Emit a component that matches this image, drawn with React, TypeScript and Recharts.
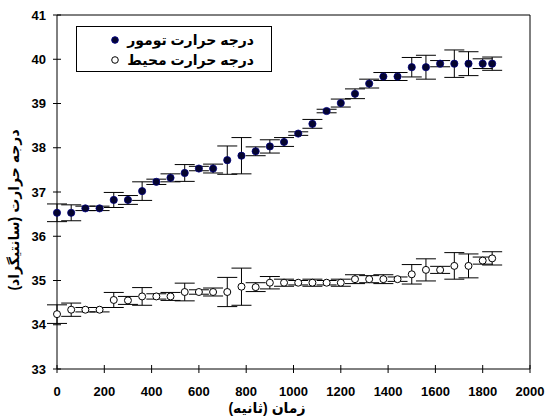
import { ScatterChart, Scatter, XAxis, YAxis, ErrorBar, ReferenceLine, Legend, Label } from 'recharts'

// time (s)
const TIME = [
  0, 60, 120, 180, 240, 300, 360, 420, 480, 540, 600, 660, 720, 780, 840, 900,
  960, 1020, 1080, 1140, 1200, 1260, 1320, 1380, 1440, 1500, 1560, 1620, 1680, 1740, 1800, 1840,
]

const TUMOR = [
  36.53, 36.53, 36.63, 36.63, 36.82, 36.82, 37.02, 37.23, 37.32, 37.43, 37.53, 37.53, 37.72, 37.82, 37.92, 38.03,
  38.13, 38.32, 38.54, 38.83, 39.01, 39.22, 39.45, 39.61, 39.61, 39.82, 39.82, 39.9, 39.9, 39.9, 39.9, 39.9,
]
const TUMOR_ERR = [
  0.2, 0.18, 0.05, 0.05, 0.17, 0.1, 0.21, 0.06, 0.09, 0.19, 0.05, 0.1, 0.32, 0.41, 0.1, 0.15,
  0.1, 0.04, 0.1, 0.04, 0.09, 0.11, 0.1, 0.09, 0.09, 0.22, 0.27, 0.07, 0.31, 0.27, 0.11, 0.15,
]

const AMBIENT = [
  34.24, 34.34, 34.34, 34.34, 34.56, 34.55, 34.64, 34.64, 34.64, 34.74, 34.74, 34.74, 34.74, 34.86, 34.85, 34.95,
  34.95, 34.95, 34.95, 34.95, 34.95, 35.03, 35.03, 35.03, 35.03, 35.14, 35.24, 35.24, 35.33, 35.33, 35.45, 35.5,
]
const AMBIENT_ERR = [
  0.21, 0.15, 0.05, 0.05, 0.17, 0.09, 0.2, 0.06, 0.09, 0.2, 0.05, 0.09, 0.33, 0.42, 0.1, 0.14,
  0.08, 0.05, 0.08, 0.05, 0.08, 0.1, 0.08, 0.1, 0.05, 0.22, 0.25, 0.08, 0.3, 0.27, 0.08, 0.15,
]

const X_TICKS = [0, 200, 400, 600, 800, 1000, 1200, 1400, 1600, 1800, 2000]
const Y_TICKS = [33, 34, 35, 36, 37, 38, 39, 40, 41]

const LABEL_TUMOR = 'درجه حرارت تومور'
const LABEL_AMBIENT = 'درجه حرارت محیط'
const X_TITLE = 'زمان (ثانیه)'
const Y_TITLE = 'درجه حرارت (سانتیگراد)'

const FONT = '"Liberation Sans", Arial, "DejaVu Sans", sans-serif'

const tumorData = TIME.map((t, i) => ({ t, v: TUMOR[i], err: TUMOR_ERR[i] }))
const ambientData = TIME.map((t, i) => ({ t, v: AMBIENT[i], err: AMBIENT_ERR[i] }))

function XTick(props: any) {
  const { x, y, payload } = props
  const ay = y - 18
  return (
    <g>
      <line x1={x} x2={x} y1={ay - 4} y2={ay + 4} stroke="#000" />
      <text x={x} y={ay + 27} textAnchor="middle" fontFamily={FONT} fontWeight="bold" fontSize={13} fill="#000">
        {payload.value}
      </text>
    </g>
  )
}

function YTick(props: any) {
  const { x, y, payload } = props
  const ax = x + 11
  return (
    <g>
      <line x1={ax - 4} x2={ax + 4} y1={y} y2={y} stroke="#000" />
      <text x={x} y={y + 4.5} textAnchor="end" fontFamily={FONT} fontWeight="bold" fontSize={13} fill="#000">
        {payload.value}
      </text>
    </g>
  )
}

const filledDot = (p: any) => <circle cx={p.cx} cy={p.cy} r={3.6} fill="#05052e" stroke="#000080" strokeWidth={0.8} />
const hollowDot = (p: any) => <circle cx={p.cx} cy={p.cy} r={3.5} fill="#fff" stroke="#000" strokeWidth={1} />

function LegendBox() {
  const row = (top: number, filled: boolean, text: string) => (
    <div style={{ position: 'absolute', left: 0, right: 0, top, height: 20 }}>
      <svg width={10} height={10} style={{ position: 'absolute', left: 33, top: 5 }}>
        <circle cx={5} cy={5} r={3.3} fill={filled ? '#05052e' : '#fff'} stroke={filled ? '#000080' : '#000'} strokeWidth={1} />
      </svg>
      <span dir="rtl" style={{ position: 'absolute', right: 17, top: 0, lineHeight: '20px', whiteSpace: 'nowrap' }}>
        {text}
      </span>
    </div>
  )
  return (
    <div
      style={{
        position: 'relative',
        width: 196,
        height: 46,
        boxSizing: 'border-box',
        border: '1px solid #000',
        background: '#fff',
        fontFamily: FONT,
        fontWeight: 'bold',
        fontSize: 14,
        color: '#000',
      }}
    >
      {row(3, true, LABEL_TUMOR)}
      {row(23, false, LABEL_AMBIENT)}
    </div>
  )
}

export default function App() {
  return (
    <div style={{ position: 'absolute', left: 0, top: 0, width: 547, height: 416, background: '#fff' }}>
      <ScatterChart width={547} height={416} margin={{ top: 15, right: 17, left: 0, bottom: 0 }}>
        <XAxis
          type="number"
          dataKey="t"
          domain={[0, 2000]}
          ticks={X_TICKS}
          interval={0}
          height={47}
          tickSize={4}
          tickMargin={14}
          tickLine={false}
          tick={<XTick />}
          axisLine={{ stroke: '#000' }}
        >
          <Label
            content={() => (
              <text x={267} y={413} textAnchor="middle" fontFamily={FONT} fontWeight="bold" fontSize={14} fill="#000" direction="rtl">
                {X_TITLE}
              </text>
            )}
          />
        </XAxis>
        <YAxis
          type="number"
          dataKey="v"
          domain={[33, 41]}
          ticks={Y_TICKS}
          interval={0}
          width={57}
          tickSize={4}
          tickMargin={7}
          tickLine={false}
          tick={<YTick />}
          axisLine={{ stroke: '#000' }}
        >
          <Label
            content={() => (
              <text
                x={14}
                y={210}
                transform="rotate(-90 14 210)"
                textAnchor="middle"
                dominantBaseline="central"
                fontFamily={FONT}
                fontWeight="bold"
                fontSize={14}
                fill="#000"
                direction="rtl"
              >
                {Y_TITLE}
              </text>
            )}
          />
        </YAxis>
        <ReferenceLine y={41} stroke="#000" strokeWidth={1} />
        <ReferenceLine x={2000} stroke="#000" strokeWidth={1} />
        <Legend
          layout="vertical"
          align="center"
          verticalAlign="middle"
          content={() => <LegendBox />}
          wrapperStyle={{ left: 76, top: 26, width: 196, height: 46 }}
        />
        <Scatter name={LABEL_TUMOR} data={tumorData} dataKey="v" shape={filledDot} isAnimationActive={false}>
          <ErrorBar dataKey="err" direction="y" width={10} stroke="#000" strokeWidth={1} isAnimationActive={false} />
        </Scatter>
        <Scatter name={LABEL_AMBIENT} data={ambientData} dataKey="v" shape={hollowDot} isAnimationActive={false}>
          <ErrorBar dataKey="err" direction="y" width={10} stroke="#000" strokeWidth={1} isAnimationActive={false} />
        </Scatter>
      </ScatterChart>
    </div>
  )
}
